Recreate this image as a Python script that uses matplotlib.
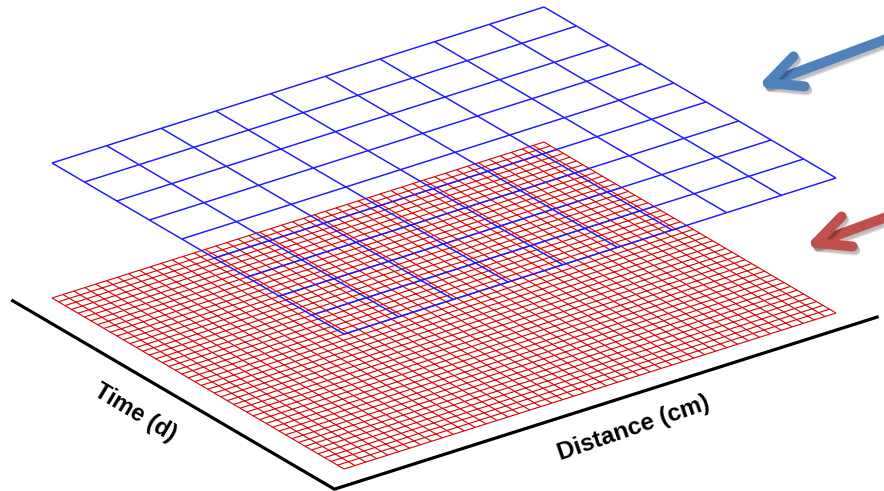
import numpy as np
import matplotlib
matplotlib.use("Agg")
import matplotlib.pyplot as plt
from matplotlib.collections import LineCollection
from matplotlib.patches import FancyArrowPatch, ArrowStyle
from matplotlib.transforms import Affine2D
import matplotlib.patheffects as pe

# Grid resolution of the two layers (cells per side)
coarse_cells = 9    # blue, upper layer
fine_cells = 45     # red, lower layer

axis_labels = ["Time (d)", "Distance (cm)"]

# Figure in pixel units
fig = plt.figure(figsize=(8.84, 4.91), dpi=100)
ax = fig.add_axes([0, 0, 1, 1])
ax.set_xlim(0, 884)
ax.set_ylim(491, 0)
ax.axis("off")

# Oblique projection of the (distance, time) plane, one per layer height
def plane(y0):
    return Affine2D.from_values(492, -156, -292, -171, 344, y0) + ax.transData

lower = plane(469)
upper = plane(334)


def grid_lines(n):
    pos = np.arange(n + 1) / n
    segs = [[(p, 0), (p, 1)] for p in pos] + [[(0, p), (1, p)] for p in pos]
    return segs


ax.add_collection(LineCollection(grid_lines(fine_cells), colors="#d80000",
                                 linewidths=0.8, transform=lower, zorder=2))
ax.add_collection(LineCollection(grid_lines(coarse_cells), colors="#1a1aff",
                                 linewidths=1.05, transform=upper, zorder=3))

# Axis lines below the lower plane
ax.plot([-0.058, -0.058, 1.045], [1.037, -0.065, -0.065], color="black",
        lw=2.3, transform=lower, solid_joinstyle="miter", zorder=1)

ax.text(-0.149, 0.464, axis_labels[0], transform=lower, rotation=-31,
        ha="center", va="center", rotation_mode="anchor", fontsize=17,
        fontweight="bold", family="Liberation Sans")
ax.text(0.475, -0.193, axis_labels[1], transform=lower, rotation=19,
        ha="center", va="center", rotation_mode="anchor", fontsize=17.5,
        fontweight="bold", family="Liberation Sans")

# Pointer arrows
shadow = [pe.SimpleLineShadow(offset=(2, -3), shadow_color="black", alpha=0.12),
          pe.SimpleLineShadow(offset=(1.5, -2), shadow_color="black", alpha=0.15),
          pe.Normal()]
for tail, tip, col in [((892, 37), (757, 87), "#4f81bd"),
                       ((892, 215), (805, 247), "#c0504d")]:
    arr = FancyArrowPatch(tail, tip,
                          arrowstyle=ArrowStyle("->", head_length=24, head_width=11.5),
                          mutation_scale=1, lw=7.2, color=col, shrinkA=0, shrinkB=0,
                          capstyle="round", joinstyle="round", zorder=4)
    arr.set_path_effects(shadow)
    ax.add_patch(arr)

fig.savefig("out.png", dpi=100)
